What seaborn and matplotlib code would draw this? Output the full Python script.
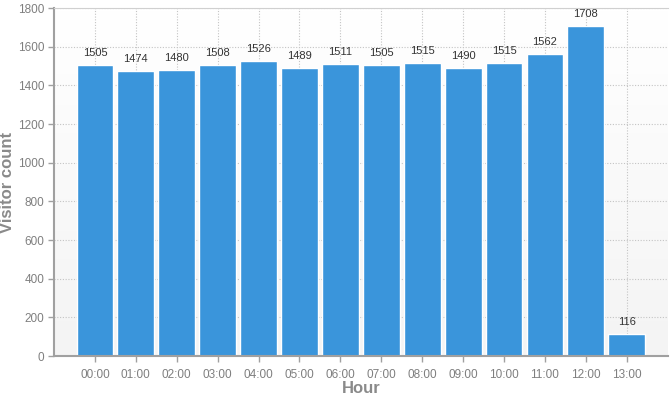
import numpy as np
import pandas as pd
import matplotlib
matplotlib.use("Agg")
import matplotlib.pyplot as plt
import seaborn as sns

hours = ["00:00", "01:00", "02:00", "03:00", "04:00", "05:00", "06:00",
         "07:00", "08:00", "09:00", "10:00", "11:00", "12:00", "13:00"]
visitors = [1505, 1474, 1480, 1508, 1526, 1489, 1511,
            1505, 1515, 1490, 1515, 1562, 1708, 116]

df = pd.DataFrame({"Hour": hours, "Visitors": visitors})

sns.set_style("white")
plt.rcParams['font.family'] = ['Liberation Sans', 'DejaVu Sans']

fig = plt.figure(figsize=(6.7, 3.98), dpi=100)
ax = fig.add_axes([0.0806, 0.1055, 0.916, 0.874])

# soft background gradient
grad = np.linspace(1, 0, 100).reshape(-1, 1)
ax.imshow(grad, extent=[0, 1, 0, 1], transform=ax.transAxes, aspect="auto",
          cmap=matplotlib.colors.LinearSegmentedColormap.from_list("bg", ["#f4f4f4", "#ffffff"]),
          zorder=0)

sns.barplot(data=df, x="Hour", y="Visitors", color="#3a95db", width=0.9,
            saturation=1, ax=ax, zorder=2)

ax.bar_label(ax.containers[0], fontsize=8, color="#333333", padding=5)

ax.set_xlim(-1, 14)
ax.set_ylim(0, 1800)
ax.set_yticks(range(0, 1801, 200))
ax.grid(True, linestyle=(0, (1, 1.5)), color="#c4c4c4", linewidth=0.8, zorder=1)
ax.set_axisbelow(True)

for s in ["left", "bottom"]:
    ax.spines[s].set_color("#a0a0a0")
    ax.spines[s].set_linewidth(1.5)
ax.spines["top"].set_color("#d0d0d0")
ax.spines["top"].set_linewidth(0.8)
ax.spines["right"].set_visible(False)

ax.tick_params(axis="both", colors="#a0a0a0", labelcolor="#7f7f7f",
               labelsize=8.5, length=4, width=1, direction="out")
ax.tick_params(axis="x", bottom=True, pad=5)
ax.tick_params(axis="y", left=True, pad=3)

ax.set_xlabel("Hour", fontsize=12, fontweight="bold", color="#8a8a8a", labelpad=0)
ax.set_ylabel("Visitor count", fontsize=12, fontweight="bold", color="#8a8a8a", labelpad=2)

fig.savefig("out.png", dpi=100)
